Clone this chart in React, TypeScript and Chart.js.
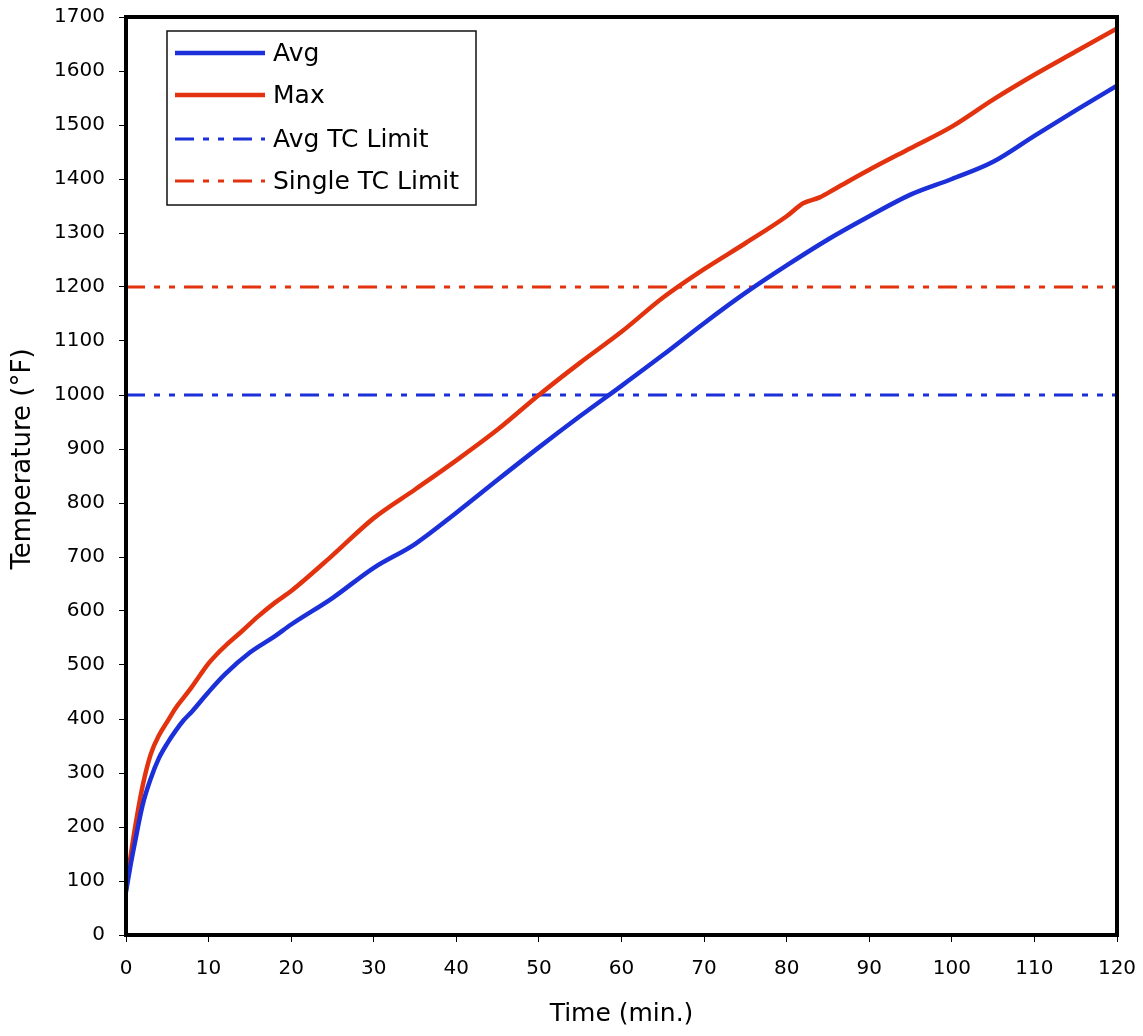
import { useEffect, useRef } from 'react';
import { Chart, registerables } from 'chart.js';

Chart.register(...registerables);

// ---- data ----
const avgTime = [0, 0.5, 1, 2, 3, 4, 5, 6, 7, 8, 10, 12, 15, 18, 20, 25, 30, 35, 40, 45, 50, 55, 60, 65, 70, 75, 80, 85, 90, 95, 100, 105, 110, 115, 120];
const avgTemp = [80, 125, 165, 240, 290, 328, 355, 378, 398, 414, 450, 483, 523, 553, 575, 624, 680, 724, 782, 843, 903, 961, 1017, 1074, 1133, 1189, 1240, 1288, 1331, 1371, 1400, 1432, 1480, 1527, 1573];

const maxTime = [0, 0.5, 1, 2, 3, 4, 5, 6, 7, 8, 9, 10, 11, 12, 14, 16, 18, 20, 25, 30, 35, 40, 45, 50, 55, 60, 65, 70, 75, 80, 82, 84, 86, 90, 95, 100, 105, 110, 115, 120];
const maxTemp = [85, 140, 190, 275, 335, 370, 395, 420, 440, 460, 482, 503, 520, 535, 562, 590, 615, 637, 703, 772, 825, 879, 936, 1000, 1060, 1117, 1180, 1233, 1281, 1331, 1355, 1366, 1383, 1417, 1457, 1497, 1547, 1593, 1636, 1679];

const limitTime = [0, 120];
const avgLimit = [1000, 1000];
const singleLimit = [1200, 1200];

const seriesLabels = ['Avg', 'Max', 'Avg TC Limit', 'Single TC Limit'];
const xTitle = 'Time (min.)';
const yTitle = 'Temperature (°F)';

const BLUE = '#1b30d8';
const RED = '#e2330e';
const DASH = [19, 9, 6, 9, 6, 9];
const FONT = "'DejaVu Sans', Verdana, sans-serif";

const toPoints = (xs: number[], ys: number[]) => xs.map((x, i) => ({ x, y: ys[i] }));

const decorPlugin = {
  id: 'decor',
  afterDatasetsDraw(chart: any) {
    const { ctx, chartArea } = chart;
    const { left, top, right, bottom } = chartArea;
    ctx.save();
    // frame
    ctx.strokeStyle = '#000';
    ctx.lineWidth = 4;
    ctx.setLineDash([]);
    ctx.strokeRect(left, top, right - left, bottom - top);

    // legend box
    const bx = left + 41;
    const by = top + 14;
    const bw = 309;
    const bh = 174;
    ctx.fillStyle = '#fff';
    ctx.fillRect(bx, by, bw, bh);
    ctx.lineWidth = 1.5;
    ctx.strokeStyle = '#111';
    ctx.strokeRect(bx, by, bw, bh);
    const rows = [22, 64, 108, 150];
    chart.data.datasets.forEach((ds: any, i: number) => {
      const y = by + rows[i];
      ctx.beginPath();
      ctx.strokeStyle = ds.borderColor;
      ctx.lineWidth = ds.borderWidth;
      ctx.setLineDash(ds.borderDash || []);
      ctx.moveTo(bx + 8, y);
      ctx.lineTo(bx + 98, y);
      ctx.stroke();
      ctx.setLineDash([]);
      ctx.fillStyle = '#000';
      ctx.font = `25px ${FONT}`;
      ctx.textAlign = 'left';
      ctx.textBaseline = 'middle';
      ctx.fillText(ds.label, bx + 106, y + 1);
    });

    // y axis title
    ctx.translate(23, 459);
    ctx.rotate(-Math.PI / 2);
    ctx.fillStyle = '#000';
    ctx.font = `26px ${FONT}`;
    ctx.textAlign = 'center';
    ctx.textBaseline = 'middle';
    ctx.fillText(yTitle, 0, 0);
    ctx.restore();
  },
};

export default function App() {
  const ref = useRef<HTMLCanvasElement | null>(null);

  useEffect(() => {
    if (!ref.current) return;
    const chart = new Chart(ref.current, {
      type: 'line',
      data: {
        datasets: [
          {
            label: seriesLabels[0],
            data: toPoints(avgTime, avgTemp),
            borderColor: BLUE,
            borderWidth: 4.5,
            pointRadius: 0,
            cubicInterpolationMode: 'monotone',
            fill: false,
          },
          {
            label: seriesLabels[1],
            data: toPoints(maxTime, maxTemp),
            borderColor: RED,
            borderWidth: 4.5,
            pointRadius: 0,
            cubicInterpolationMode: 'monotone',
            fill: false,
          },
          {
            label: seriesLabels[2],
            data: toPoints(limitTime, avgLimit),
            borderColor: BLUE,
            borderWidth: 3,
            borderDash: DASH,
            pointRadius: 0,
            fill: false,
          },
          {
            label: seriesLabels[3],
            data: toPoints(limitTime, singleLimit),
            borderColor: RED,
            borderWidth: 3,
            borderDash: DASH,
            pointRadius: 0,
            fill: false,
          },
        ],
      },
      options: {
        animation: false,
        responsive: false,
        devicePixelRatio: 1,
        layout: { padding: { top: 17, right: 26, left: 0, bottom: 0 } },
        plugins: {
          legend: { display: false },
          tooltip: { enabled: false },
        },
        scales: {
          x: {
            type: 'linear',
            min: 0,
            max: 120,
            ticks: {
              stepSize: 10,
              color: '#000',
              font: { family: FONT, size: 20 },
              padding: 15,
              maxRotation: 0,
              callback: (v: any) => String(v),
            },
            grid: {
              display: true,
              drawOnChartArea: false,
              drawTicks: true,
              tickLength: 7,
              color: '#000',
              lineWidth: 1,
            },
            border: { display: false },
            title: {
              display: true,
              text: xTitle,
              color: '#000',
              font: { family: FONT, size: 25 },
              padding: { top: 0, bottom: 7 },
            },
            afterFit: (s: any) => {
              s.height = 101;
              s.paddingLeft = 0;
              s.paddingRight = 0;
            },
          },
          y: {
            type: 'linear',
            min: 0,
            max: 1700,
            ticks: {
              stepSize: 100,
              color: '#000',
              font: { family: FONT, size: 20 },
              padding: 14,
              callback: (v: any) => String(v),
            },
            grid: {
              display: true,
              drawOnChartArea: false,
              drawTicks: true,
              tickLength: 7,
              color: '#000',
              lineWidth: 1,
            },
            border: { display: false },
            afterFit: (s: any) => {
              s.width = 126;
              s.paddingTop = 0;
              s.paddingBottom = 0;
            },
          },
        },
      },
      plugins: [decorPlugin],
    } as any);
    return () => chart.destroy();
  }, []);

  return (
    <div style={{ position: 'absolute', left: 0, top: 0, width: 1143, height: 1036, background: '#fff' }}>
      <canvas ref={ref} width={1143} height={1036} style={{ display: 'block' }} />
    </div>
  );
}
